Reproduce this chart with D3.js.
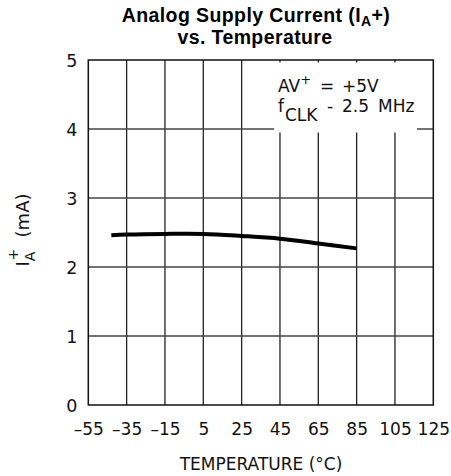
<!DOCTYPE html>
<html><head><meta charset="utf-8">
<script src="https://cdn.jsdelivr.net/npm/d3@7"></script>
<style>
body{margin:0;background:#fff;}
svg{display:block;}
.lbl{font-family:"DejaVu Sans",sans-serif;fill:#111;}
</style></head>
<body>
<svg id="c" width="451" height="476"></svg>
<script>
const xTicks = [-55,-35,-15,5,25,45,65,85,105,125];
const yTicks = [0,1,2,3,4,5];
const temps = [-43,-35,-15,5,25,45,65,85];
const current = [2.46,2.47,2.48,2.48,2.45,2.41,2.34,2.27];

const svg = d3.select("#c");
const L=88.3, R=433.3, T=60, B=405;
const x = d3.scaleLinear().domain([-55,125]).range([L,R]);
const y = d3.scaleLinear().domain([0,5]).range([B,T]);

// grid
const g = svg.append("g");
g.selectAll(".vg").data(xTicks.slice(1,-1)).enter().append("line")
 .attr("x1",d=>x(d)).attr("x2",d=>x(d)).attr("y1",T).attr("y2",B)
 .attr("stroke","#222").attr("stroke-width",1.3);
g.selectAll(".hg").data(yTicks.slice(1,-1)).enter().append("line")
 .attr("x1",L).attr("x2",R).attr("y1",d=>y(d)).attr("y2",d=>y(d))
 .attr("stroke","#444").attr("stroke-width",1.3);

// legend box (white, no border)
svg.append("rect").attr("x",274).attr("y",62.5).attr("width",143).attr("height",70).attr("fill","#fff");

// border
svg.append("rect").attr("x",L).attr("y",T).attr("width",R-L).attr("height",B-T)
 .attr("fill","none").attr("stroke","#111").attr("stroke-width",1.5);

// curve
const line = d3.line().x((d,i)=>x(temps[i])).y(d=>y(d)).curve(d3.curveCatmullRom);
svg.append("path").attr("d",line(current)).attr("fill","none").attr("stroke","#000")
 .attr("stroke-width",4).attr("stroke-linecap","butt");

// axes via d3 axis, styled
const xa = svg.append("g").attr("transform",`translate(0,${B})`)
 .call(d3.axisBottom(x).tickValues(xTicks).tickSize(0).tickPadding(0).tickFormat(d=>d<0?"\u2013"+Math.abs(d):String(d)));
xa.select(".domain").remove();
xa.selectAll("text").attr("class","lbl").attr("dy",null).attr("y",30).style("font-size","17px");

const ya = svg.append("g").attr("transform",`translate(${L},0)`)
 .call(d3.axisLeft(y).tickValues(yTicks).tickSize(0).tickPadding(0).tickFormat(d3.format("d")));
ya.select(".domain").remove();
ya.selectAll("text").attr("class","lbl").attr("x",-11).attr("dy","0.36em").style("font-size","17.5px");

// title
const TF="'Liberation Sans',Arial,sans-serif";
const tt = svg.append("text").attr("x",256).attr("y",22).attr("text-anchor","middle")
 .style("font-family",TF).style("font-weight","bold").style("font-size","19.5px").style("letter-spacing","0.4px");
tt.append("tspan").text("Analog Supply Current (I");
tt.append("tspan").text("A").attr("dy",4).style("font-size","14px");
tt.append("tspan").text("+)").attr("dy",-4);
svg.append("text").attr("x",255).attr("y",44).attr("text-anchor","middle")
 .style("font-family",TF).style("font-weight","bold").style("font-size","19.5px").style("letter-spacing","0.4px")
 .text("vs. Temperature");

// x label
svg.append("text").attr("class","lbl").attr("x",261).attr("y",470).attr("text-anchor","middle")
 .style("font-size","17px").text("TEMPERATURE (\u00B0C)");

// y label
const yl = svg.append("text").attr("class","lbl").attr("transform","translate(29,230) rotate(-90)")
 .attr("text-anchor","middle").style("font-size","18px");
yl.append("tspan").text("I");
yl.append("tspan").text("A").attr("dy",6).style("font-size","14px");
yl.append("tspan").text("+").attr("dx",-9).attr("dy",-17).style("font-size","14px");
yl.append("tspan").text("  (mA)").attr("dy",11);

// legend text
const l1 = svg.append("text").attr("class","lbl").attr("y",91.5).style("font-size","17px");
l1.append("tspan").attr("x",278).text("AV");
l1.append("tspan").text("+").attr("dy",-8).style("font-size","13px");
l1.append("tspan").attr("x",320).attr("dy",8).text("=");
l1.append("tspan").attr("x",342).text("+5V");
const l2 = svg.append("text").attr("class","lbl").attr("y",112).style("font-size","17px");
l2.append("tspan").attr("x",278).text("f");
l2.append("tspan").text("CLK").attr("dy",9).attr("dx",1);
l2.append("tspan").attr("x",327).attr("dy",-9).text("-");
l2.append("tspan").attr("x",342).text("2.5");
l2.append("tspan").attr("x",378).text("MHz");
svg.selectAll("text").attr("xml:space","preserve");
</script>
</body></html>
